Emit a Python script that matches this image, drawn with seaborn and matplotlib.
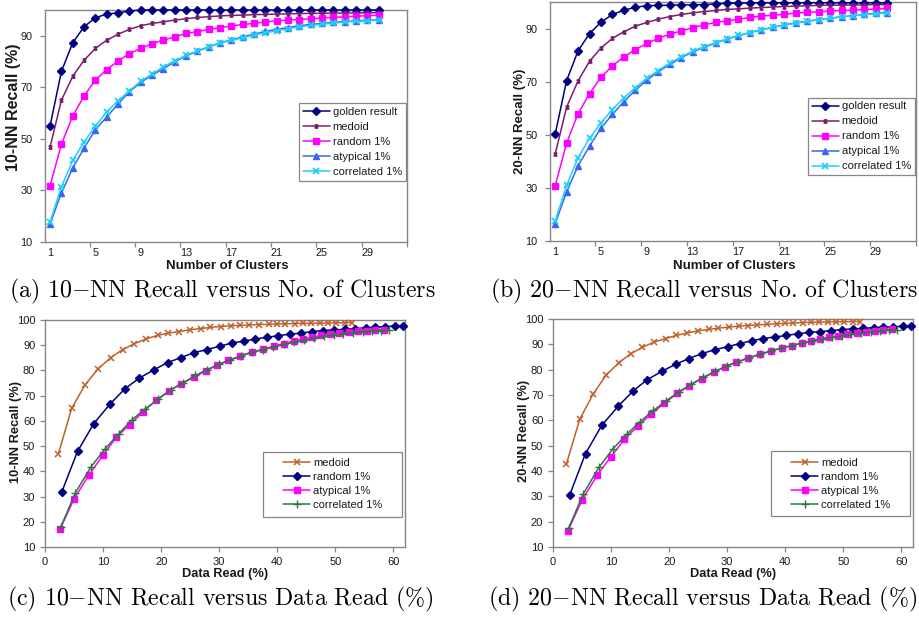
import matplotlib
matplotlib.use("Agg")
import matplotlib.pyplot as plt
import seaborn as sns
from matplotlib.path import Path
from matplotlib.patches import Rectangle

sns.set_style("white")
plt.rcParams["font.family"] = ["Liberation Sans", "DejaVu Sans"]
plt.rcParams["mathtext.fontset"] = "cm"

# ---------------- data ----------------
clusters = list(range(1, 31))

# 10-NN recall vs number of clusters (panel a); reused for panel c
nn10_golden = [55.1, 76.2, 87.3, 93.5, 97.0, 98.4, 98.9, 99.6, 100, 100,
               100, 100, 100, 100, 100, 100, 100, 100, 100, 100,
               100, 100, 100, 100, 100, 100, 100, 100, 100, 100]
nn10_medoid = [46.9, 65.0, 74.3, 80.5, 85.1, 88.3, 90.6, 92.5, 93.9, 94.8,
               95.4, 96.1, 96.6, 97.1, 97.4, 97.7, 97.9, 98.0, 98.2, 98.3,
               98.4, 98.5, 98.6, 98.7, 98.7, 98.8, 98.8, 98.9, 98.9, 99.0]
nn10_random = [31.9, 47.9, 58.9, 66.7, 72.8, 76.9, 80.2, 83.1, 85.1, 87.0,
               88.3, 89.6, 90.9, 91.6, 92.5, 93.1, 93.8, 94.4, 94.8, 95.4,
               95.8, 96.1, 96.3, 96.6, 96.9, 97.1, 97.4, 97.6, 97.8, 98.0]
nn10_atypical = [17.1, 29.0, 38.7, 46.4, 53.6, 58.5, 63.6, 68.3, 71.9, 74.7,
                 77.3, 79.9, 82.2, 84.0, 85.7, 87.3, 88.4, 89.6, 90.6, 91.7,
                 92.5, 93.2, 93.9, 94.4, 94.8, 95.2, 95.5, 95.8, 96.0, 96.2]
nn10_correlated = [17.8, 31.4, 41.7, 48.8, 54.9, 60.5, 64.8, 68.6, 72.4, 75.1,
                   78.0, 80.3, 82.4, 84.2, 85.7, 87.2, 88.2, 89.2, 90.3, 91.2,
                   91.9, 92.7, 93.5, 94.0, 94.5, 94.9, 95.3, 95.6, 95.8, 96.0]

# 20-NN recall vs number of clusters (panel b); reused for panel d
nn20_golden = [50.2, 70.4, 81.6, 88.1, 92.4, 95.3, 96.9, 98.0, 98.6, 98.7,
               98.8, 98.9, 98.9, 99.0, 99.3, 99.5, 99.6, 99.6, 99.7, 99.7,
               99.7, 99.7, 99.7, 99.7, 99.7, 99.7, 99.7, 99.7, 99.7, 99.7]
nn20_medoid = [42.7, 60.4, 70.3, 77.7, 82.7, 86.3, 88.8, 90.9, 92.3, 93.5,
               94.5, 95.3, 95.9, 96.4, 96.8, 97.2, 97.4, 97.7, 97.9, 98.1,
               98.3, 98.4, 98.6, 98.7, 98.8, 98.8, 98.9, 98.9, 99.0, 99.0]
nn20_random = [30.7, 46.9, 58.0, 65.5, 71.6, 76.0, 79.3, 82.1, 84.4, 86.3,
               87.9, 89.1, 90.3, 91.4, 92.3, 92.9, 93.5, 94.2, 94.7, 95.0,
               95.4, 95.8, 96.1, 96.3, 96.6, 96.8, 96.9, 97.2, 97.3, 97.6]
nn20_atypical = [16.5, 28.5, 38.3, 45.7, 52.5, 57.7, 62.5, 66.8, 70.6, 73.7,
                 76.5, 79.0, 81.2, 82.9, 84.6, 86.0, 87.3, 88.5, 89.5, 90.5,
                 91.4, 92.2, 92.8, 93.4, 93.9, 94.4, 94.9, 95.3, 95.7, 96.0]
nn20_correlated = [17.5, 30.9, 41.4, 48.7, 54.5, 59.5, 63.9, 67.7, 71.3, 74.2,
                   77.0, 79.3, 81.5, 83.2, 84.7, 86.1, 87.4, 88.5, 89.5, 90.4,
                   91.3, 92.0, 92.7, 93.3, 93.9, 94.4, 94.8, 95.2, 95.6, 95.8]

# data read (%) per method (panels c, d)
read_medoid = [2.3, 4.6, 6.9, 9.1, 11.3, 13.4, 15.4, 17.4, 19.4, 21.2,
               23.1, 24.9, 26.8, 28.5, 30.3, 32.0, 33.6, 35.2, 36.8, 38.5,
               39.9, 41.4, 43.0, 44.4, 45.8, 47.3, 48.7, 50.1, 51.6, 52.9]
read_random = [2.9, 5.6, 8.4, 11.2, 13.8, 16.2, 18.7, 21.1, 23.4, 25.6,
               27.9, 30.1, 32.2, 34.2, 36.2, 38.2, 40.2, 42.2, 44.1, 45.9,
               47.8, 49.7, 51.6, 53.4, 55.2, 56.9, 58.6, 60.3, 61.6]
read_atypical = [2.6, 5.0, 7.6, 10.0, 12.3, 14.6, 16.9, 19.2, 21.4, 23.5,
                 25.6, 27.8, 29.7, 31.6, 33.6, 35.6, 37.5, 39.4, 41.1, 42.8,
                 44.4, 46.0, 47.6, 49.1, 50.7, 52.3, 53.9, 55.4, 56.9, 58.3]
read_correlated = [2.7, 5.2, 7.9, 10.3, 12.7, 15.0, 17.3, 19.5, 21.7, 23.8,
                   25.9, 27.9, 29.9, 31.9, 33.8, 35.7, 37.5, 39.3, 41.1, 42.9,
                   44.6, 46.3, 48.0, 49.7, 51.4, 53.1, 54.7, 56.3, 57.8, 59.3]

cluster_ticks = [1, 5, 9, 13, 17, 21, 25, 29]
recall_ticks_top = [10, 30, 50, 70, 90]
recall_ticks_bottom = [10, 20, 30, 40, 50, 60, 70, 80, 90, 100]
read_ticks = [0, 10, 20, 30, 40, 50, 60]

# ---------------- style ----------------
star = Path([(-1, -1), (1, 1), (-1, 1), (1, -1), (0, -1.35), (0, 1.35)],
            [Path.MOVETO, Path.LINETO, Path.MOVETO, Path.LINETO, Path.MOVETO, Path.LINETO])
FRAME = "#868686"
TXT = "#1a1a1a"


def draw(ax, x, y, color, marker, label, ms, mew=1.0):
    sns.lineplot(x=x, y=y, ax=ax, color=color, marker=marker, markersize=ms,
                 markeredgecolor=color, markerfacecolor=color, markeredgewidth=mew,
                 linewidth=1.1, label=label, clip_on=False, zorder=3)


def frame(ax):
    for s in ax.spines.values():
        s.set_color(FRAME)
        s.set_linewidth(1.0)
    ax.set_facecolor("white")


fig = plt.figure(figsize=(9.2, 6.18), dpi=100)
W, H = 920, 618


def axes_px(l, t, r, b):
    return fig.add_axes([l / W, 1 - b / H, (r - l) / W, (b - t) / H])


axa = axes_px(45, 10, 407, 242)
axb = axes_px(550, 2, 916, 241)
axc = axes_px(45, 320, 405, 547)
axd = axes_px(553, 319, 913, 547)

# ---------------- top panels ----------------
top = [(axa, nn10_golden, nn10_medoid, nn10_random, nn10_atypical, nn10_correlated),
       (axb, nn20_golden, nn20_medoid, nn20_random, nn20_atypical, nn20_correlated)]
for ax, g, m, r, a, c in top:
    draw(ax, clusters, g, "#000080", "D", "golden result", 3.6)
    draw(ax, clusters, m, "#7a1f6e", star, "medoid", 3.6, 1.1)
    draw(ax, clusters, r, "#ff00ff", "s", "random 1%", 4.0)
    draw(ax, clusters, a, "#3a66f0", "^", "atypical 1%", 4.4)
    draw(ax, clusters, c, "#1fd2f5", "x", "correlated 1%", 4.2, 1.3)
    frame(ax)
    ax.set_xlim(0.55, 30.2)
    ax.set_ylim(10, 100)
    ax.set_xticks(cluster_ticks)
    ax.set_xticks([t + 3.5 for t in cluster_ticks], minor=True)
    ax.set_yticks(recall_ticks_top)
    ax.tick_params(axis="x", which="major", length=0, pad=4.5, labelsize=7.8, labelcolor=TXT)
    ax.tick_params(axis="x", which="minor", bottom=True, length=3.5, width=0.9, color=FRAME, direction="out")
    ax.tick_params(axis="y", which="major", left=True, length=3.5, width=0.9, color=FRAME,
                   direction="out", pad=5.5, labelsize=7.8, labelcolor=TXT)
    ax.set_xlabel("Number of Clusters", fontsize=9.5, fontweight="bold", color=TXT, va="center")
    ax.xaxis.set_label_coords(0.504, -0.103)
    leg = ax.legend(loc="upper right", bbox_to_anchor=(0.997, 0.6), borderaxespad=0,
                    fontsize=8, frameon=True, fancybox=False, edgecolor=FRAME, framealpha=1,
                    handlelength=2.45, handletextpad=0.25, labelspacing=0.45, borderpad=0.35)
    leg.get_frame().set_linewidth(0.9)
    for t in leg.get_texts():
        t.set_color(TXT)

axa.set_ylabel("10-NN Recall (%)", fontsize=11.5, fontweight="bold", color=TXT, va="center")
axa.yaxis.set_label_coords(-0.088, 0.58)
axb.set_ylabel("20-NN Recall (%)", fontsize=9.5, fontweight="bold", color=TXT, va="center")
axb.yaxis.set_label_coords(-0.082, 0.502)

# ---------------- bottom panels ----------------
bottom = [(axc, nn10_medoid, nn10_random, nn10_atypical, nn10_correlated, "10-NN Recall (%)"),
          (axd, nn20_medoid, nn20_random, nn20_atypical, nn20_correlated, "20-NN Recall (%)")]
for ax, m, r, a, c, ylab in bottom:
    draw(ax, read_medoid, m, "#c0602a", "x", "medoid", 4.0, 1.1)
    draw(ax, read_random, r[:len(read_random)], "#000080", "D", "random 1%", 3.6)
    draw(ax, read_atypical, a, "#ff00ff", "s", "atypical 1%", 4.2)
    draw(ax, read_correlated, c, "#2a7a3a", "+", "correlated 1%", 5.5, 1.0)
    frame(ax)
    ax.set_xlim(0, 62)
    ax.set_ylim(10, 100)
    ax.set_xticks(read_ticks)
    ax.set_yticks(recall_ticks_bottom)
    ax.tick_params(axis="x", bottom=True, length=3.5, width=0.9, color=FRAME, direction="out",
                   pad=3.5, labelsize=8, labelcolor=TXT)
    ax.tick_params(axis="y", left=True, length=3.5, width=0.9, color=FRAME, direction="out",
                   pad=3.5, labelsize=8, labelcolor=TXT)
    ax.set_xlabel("Data Read (%)", fontsize=9.2, fontweight="bold", color=TXT, va="center")
    ax.xaxis.set_label_coords(0.5, -0.119)
    ax.set_ylabel(ylab, fontsize=9.3, fontweight="bold", color=TXT, va="center")
    ax.yaxis.set_label_coords(-0.08, 0.507)
    ax.add_patch(Rectangle((0.606, 0.134), 0.386, 0.286, transform=ax.transAxes,
                           facecolor="white", edgecolor=FRAME, linewidth=0.9, zorder=5))
    leg = ax.legend(loc="center", bbox_to_anchor=(0.799, 0.277), frameon=False,
                    fontsize=8, handlelength=2.45, handletextpad=0.25, labelspacing=0.35)
    leg.set_zorder(6)
    for t in leg.get_texts():
        t.set_color(TXT)

# ---------------- captions ----------------
cap = dict(fontsize=17.2, family="cmr10", color="black", va="center", ha="right")
fig.text(436 / W, 1 - 291 / H, "(a) 10$-$NN Recall versus No. of Clusters", **cap)
fig.text(918 / W, 1 - 291 / H, "(b) 20$-$NN Recall versus No. of Clusters", **cap)
fig.text(433 / W, 1 - 599 / H, "(c) 10$-$NN Recall versus Data Read (%)", **cap)
fig.text(917 / W, 1 - 599 / H, "(d) 20$-$NN Recall versus Data Read (%)", **cap)

fig.savefig("out.png", dpi=100, facecolor="white")
